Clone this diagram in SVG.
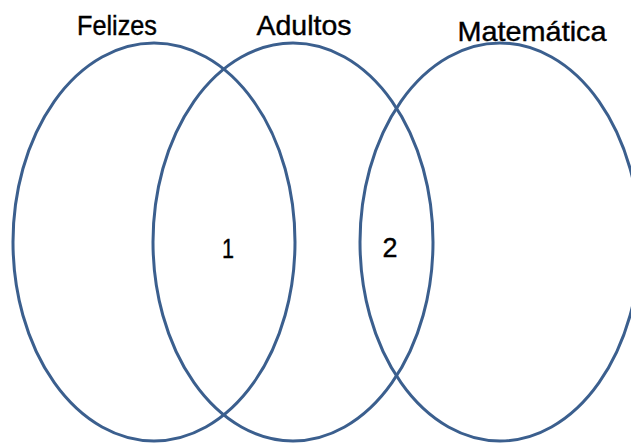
<svg xmlns="http://www.w3.org/2000/svg" width="631" height="443" viewBox="0 0 631 443">
  <style>
    .set { fill: none; stroke: #3b5f8e; stroke-width: 3; }
    .title { font-family: "Liberation Sans", Arial, sans-serif; font-size: 28px; fill: #000; text-anchor: middle; stroke: #000; stroke-width: 0.4; }
    .num { font-family: "Liberation Sans", Arial, sans-serif; font-size: 28px; fill: #000; text-anchor: middle; stroke: #000; stroke-width: 0.4; }
  </style>
  <rect width="631" height="443" fill="#fff"/>
  <g id="felizes">
    <ellipse class="set" cx="154" cy="242" rx="141" ry="199"/>
    <text class="title" x="117" y="35" textLength="80" lengthAdjust="spacingAndGlyphs">Felizes</text>
  </g>
  <g id="adultos">
    <ellipse class="set" cx="293" cy="242" rx="140" ry="199"/>
    <text class="title" x="304" y="35" textLength="95" lengthAdjust="spacingAndGlyphs">Adultos</text>
  </g>
  <g id="matematica">
    <ellipse class="set" cx="500" cy="242" rx="140" ry="199"/>
    <text class="title" x="532" y="41" textLength="149" lengthAdjust="spacingAndGlyphs">Matemática</text>
  </g>
  <g id="region-1">
    <text class="num" x="228" y="258" textLength="12" lengthAdjust="spacingAndGlyphs">1</text>
  </g>
  <g id="region-2">
    <text class="num" x="390" y="257" textLength="15" lengthAdjust="spacingAndGlyphs">2</text>
  </g>
</svg>
